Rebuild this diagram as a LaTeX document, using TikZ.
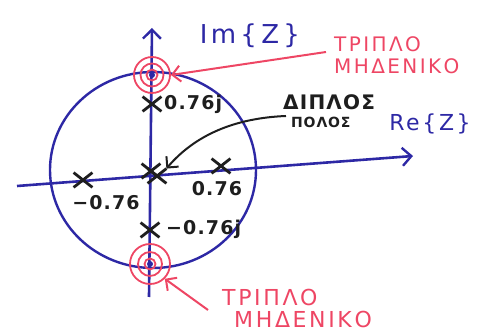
\documentclass[tikz,border=0pt]{standalone}
\usepackage{fontspec}
\setmainfont{DejaVu Sans}
\newfontfamily\hand[LetterSpace=12]{DejaVu Sans}
\newfontfamily\handb[LetterSpace=6]{DejaVu Sans Bold}
\usetikzlibrary{arrows.meta,shapes.misc,shapes.geometric}
\definecolor{pen}{RGB}{45,40,165}
\definecolor{redpen}{RGB}{238,70,100}
\definecolor{blk}{RGB}{30,30,30}
\tikzset{
  axis/.style={draw=pen,line width=2.6pt,-{Straight Barb[length=9pt,width=18pt,line width=2.4pt]}},
  ucirc/.style={draw=pen,line width=2.4pt},
  pole/.style={draw=blk,cross out,line width=2.8pt,minimum width=16pt,minimum height=12pt,inner sep=0pt},
  zring/.style={draw=redpen,circle,line width=1.8pt,inner sep=0pt},
  zdot/.style={fill=pen,circle,inner sep=0pt,minimum size=6pt},
  btxt/.style={text=blk,font=\handb\fontsize{19}{20}\selectfont,inner sep=0pt},
  axtxt/.style={text=pen,font=\hand\fontsize{26}{28}\selectfont,inner sep=0pt},
  rtxt/.style={text=redpen,font=\hand\fontsize{20}{24}\selectfont,inner sep=0pt,align=left},
  rarrow/.style={draw=redpen,line width=2pt,-{Straight Barb[length=8pt,width=16pt,line width=2pt]}},
  karrow/.style={draw=blk,line width=2pt,-{Straight Barb[length=8pt,width=16pt,line width=2pt]}}
}
\begin{document}
\begin{tikzpicture}[x=1pt,y=-1pt]
\useasboundingbox (0,0) rectangle (487,336);
% axes
\coordinate (vb) at (149,297);
\coordinate (vt) at (152,28);
\coordinate (hl) at (17,186);
\coordinate (hr) at (413,156);
\draw[axis] (vb) -- (vt);
\draw[axis] (hl) -- (hr);
% unit circle
\node[ucirc,ellipse,minimum width=206pt,minimum height=196pt,inner sep=0pt] (uc) at (153,170) {};
% zeros
\node[zring,minimum size=36pt] (z1o) at (152,75) {};
\node[zring,minimum size=23pt] (z1m) at (152,75) {};
\node[zring,minimum size=11pt] (z1i) at (152,75) {};
\node[zdot] (z1) at (152,75) {};
\node[zring,minimum size=40pt] (z2o) at (150,264) {};
\node[zring,minimum size=24pt] (z2m) at (150,264) {};
\node[zring,minimum size=11pt] (z2i) at (150,264) {};
\node[zdot] (z2) at (150,264) {};
% poles
\node[pole] (p1) at (152,104) {};
\node[pole] (p2) at (151,171) {};
\node[pole] (p2b) at (157,176) {};
\node[pole] (p3) at (221,166) {};
\node[pole] (p4) at (83,180) {};
\node[pole] (p5) at (150,230) {};
% labels
\node[btxt,anchor=west] (l1) at (164,104) {0.76j};
\node[btxt] (l3) at (217,189) {0.76};
\node[btxt] (l4) at (106,203) {−0.76};
\node[btxt,anchor=west] (l5) at (166,229) {−0.76j};
\node[axtxt] (im) at (250,36) {Im\,\{\,Z\,\}};
\node[axtxt,font=\hand\fontsize{22}{24}\selectfont] (re) at (430,124) {Re\{Z\}};
% red annotations
\node[rtxt,anchor=west] (t1) at (334,55) {ΤΡΙΠΛΟ\\[-2pt]ΜΗΔΕΝΙΚΟ};
\node[rtxt,anchor=west,font=\hand\fontsize{22}{24}\selectfont] (t2) at (222,308) {ΤΡΙΠΛΟ\\[-2pt]\hspace*{12pt}ΜΗΔΕΝΙΚΟ};
\coordinate (a1s) at (326,52);
\draw[rarrow] (a1s) -- (z1o.east);
\coordinate (a2s) at (208,310);
\draw[rarrow] (a2s) -- (z2o.south east);
% double pole annotation
\node[btxt,anchor=west,font=\handb\fontsize{20}{22}\selectfont] (dp) at (283,102) {ΔΙΠΛΟΣ};
\node[btxt,anchor=west,font=\handb\fontsize{14}{16}\selectfont] (pp) at (291,122) {ΠΟΛΟΣ};
\coordinate (ks) at (286,116);
\draw[karrow] (ks) .. controls (235,118) and (195,135) .. (p2b.north east);
\end{tikzpicture}
\end{document}
